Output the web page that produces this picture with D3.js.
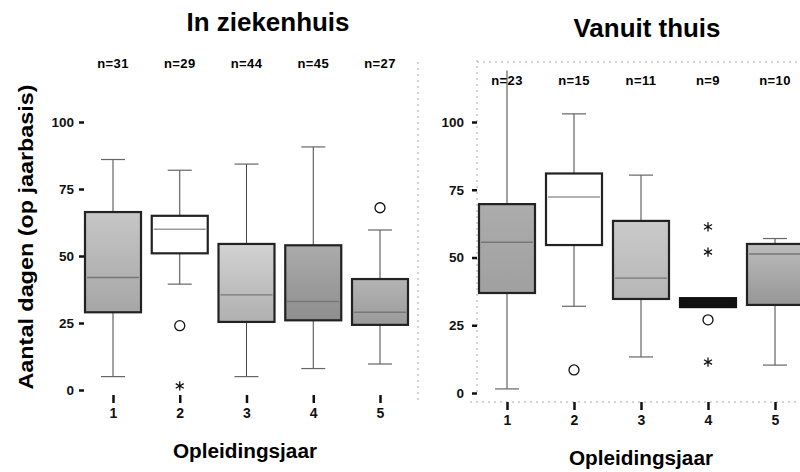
<!DOCTYPE html>
<html>
<head>
<meta charset="utf-8">
<script src="https://cdn.jsdelivr.net/npm/d3@7"></script>
<style>
  body { margin: 0; background: #fff; }
  svg { font-family: "Liberation Sans", Arial, sans-serif; font-weight: bold; }
  .axis text { font-weight: bold; fill: #111; }
</style>
</head>
<body>
<div id="chart"></div>
<script>
// opleidingsjaar categories
var years = ["1", "2", "3", "4", "5"];
var yTicks = [0, 25, 50, 75, 100];

// In ziekenhuis
var ziekN = [31, 29, 44, 45, 27];
var ziekMin = [5, 39.5, 5, 8, 9.7];
var ziekQ1 = [29, 51, 25.4, 26, 24.3];
var ziekMed = [42, 60, 35.5, 33, 29];
var ziekQ3 = [66.4, 65, 54.5, 54, 41.4];
var ziekMax = [86, 82, 84.3, 90.7, 59.7];
var ziekOut = [
  { year: "2", value: 24, type: "circle" },
  { year: "2", value: 1.5, type: "star" },
  { year: "5", value: 68, type: "circle" }
];

// Vanuit thuis
var thuisN = [23, 15, 11, 9, 10];
var thuisMin = [1.5, 32, 13.3, 31.7, 10.3];
var thuisQ1 = [36.9, 54.6, 34.7, 31.7, 32.5];
var thuisMed = [55.6, 72.3, 42.4, 33, 51.3];
var thuisQ3 = [69.7, 81, 63.5, 35, 55];
var thuisMax = [119, 103, 80.4, 35, 57];
var thuisOut = [
  { year: "2", value: 8.5, type: "circle" },
  { year: "4", value: 61.3, type: "star" },
  { year: "4", value: 52, type: "star" },
  { year: "4", value: 27, type: "circle" },
  { year: "4", value: 11.4, type: "star" }
];

var svg = d3.select("#chart").append("svg")
  .attr("width", 800)
  .attr("height", 472);

var defs = svg.append("defs");

function gradient(id, top, bottom) {
  var g = defs.append("linearGradient").attr("id", id)
    .attr("x1", 0).attr("y1", 0).attr("x2", 0).attr("y2", 1);
  g.append("stop").attr("offset", "0%").attr("stop-color", top);
  g.append("stop").attr("offset", "100%").attr("stop-color", bottom);
  return "url(#" + id + ")";
}

function drawPanel(p) {
  var x = d3.scalePoint().domain(years).range(p.xRange);
  var y = d3.scaleLinear().domain([0, 100]).range(p.yRange);
  var g = svg.append("g");
  var half = 28, cap = 12;

  var rows = years.map(function(yr, i) {
    return { year: yr, n: p.n[i], min: p.min[i], q1: p.q1[i], med: p.med[i], q3: p.q3[i], max: p.max[i], fill: p.fills[i] };
  });

  // frame bits (faint dotted, like the scan)
  p.frame.forEach(function(f) {
    g.append("line").attr("x1", f[0]).attr("y1", f[1]).attr("x2", f[2]).attr("y2", f[3])
      .attr("stroke", "#aaa").attr("stroke-width", 1).attr("stroke-dasharray", "2,4");
  });

  // y axis
  var ya = g.append("g").attr("class", "axis")
    .attr("transform", "translate(" + p.yAxisX + ",0)")
    .call(d3.axisLeft(y).tickValues(yTicks).tickSize(5).tickPadding(p.tickPad));
  ya.select(".domain").remove();
  ya.selectAll(".tick line").attr("stroke", "#111").attr("stroke-width", 2.5);
  ya.selectAll("text").style("font-size", "13.5px");

  // x axis
  var xa = g.append("g").attr("class", "axis")
    .attr("transform", "translate(0," + p.xAxisY + ")")
    .call(d3.axisBottom(x).tickSize(8).tickPadding(5));
  xa.select(".domain").remove();
  xa.selectAll(".tick line").attr("stroke", "#111").attr("stroke-width", 2.5);
  xa.selectAll("text").style("font-size", "14px");

  var box = g.selectAll(".box").data(rows).enter().append("g").attr("class", "box");

  // whiskers
  box.append("line")
    .attr("x1", d => x(d.year)).attr("x2", d => x(d.year))
    .attr("y1", d => y(d.max)).attr("y2", d => y(d.q3))
    .attr("stroke", "#444").attr("stroke-width", 1);
  box.append("line")
    .attr("x1", d => x(d.year)).attr("x2", d => x(d.year))
    .attr("y1", d => y(d.q1)).attr("y2", d => y(d.min))
    .attr("stroke", "#444").attr("stroke-width", 1);
  box.filter(d => d.max > d.q3 && d.max < 110).append("line")
    .attr("x1", d => x(d.year) - cap).attr("x2", d => x(d.year) + cap)
    .attr("y1", d => y(d.max)).attr("y2", d => y(d.max))
    .attr("stroke", "#666").attr("stroke-width", 1.2);
  box.filter(d => d.min < d.q1).append("line")
    .attr("x1", d => x(d.year) - cap).attr("x2", d => x(d.year) + cap)
    .attr("y1", d => y(d.min)).attr("y2", d => y(d.min))
    .attr("stroke", "#666").attr("stroke-width", 1.2);

  // boxes
  box.append("rect")
    .attr("x", d => x(d.year) - half)
    .attr("width", half * 2)
    .attr("y", d => y(d.q3))
    .attr("height", d => y(d.q1) - y(d.q3))
    .attr("fill", d => d.fill)
    .attr("stroke", d => d.fill === "#111" ? "#111" : "#222")
    .attr("stroke-width", 2.2);

  // medians (hidden in the solid black box)
  box.filter(d => d.fill !== "#111").append("line")
    .attr("x1", d => x(d.year) - half + 2).attr("x2", d => x(d.year) + half - 2)
    .attr("y1", d => y(d.med)).attr("y2", d => y(d.med))
    .attr("stroke", d => d.fill === "#fff" ? "#999" : "#777")
    .attr("stroke-width", 1.4);

  // n labels
  g.selectAll(".nlab").data(rows).enter().append("text")
    .attr("x", d => x(d.year)).attr("y", p.nY)
    .attr("text-anchor", "middle")
    .style("font-size", "13px")
    .style("letter-spacing", "0.4px")
    .text(d => "n=" + d.n);

  // outliers
  var circ = p.out.filter(o => o.type === "circle");
  var star = p.out.filter(o => o.type === "star");
  g.selectAll(".oc").data(circ).enter().append("circle")
    .attr("cx", d => x(d.year)).attr("cy", d => y(d.value)).attr("r", 5)
    .attr("fill", "#fff").attr("stroke", "#111").attr("stroke-width", 1.3);
  g.selectAll(".os").data(star).enter().append("path")
    .attr("transform", d => "translate(" + x(d.year) + "," + y(d.value) + ")")
    .attr("d", d3.symbol(d3.symbolAsterisk, 60))
    .attr("fill", "none").attr("stroke", "#111").attr("stroke-width", 1.3);

  // titles
  g.append("text").attr("x", p.titleX).attr("y", p.titleY)
    .attr("text-anchor", "middle").style("font-size", "25px")
    .attr("textLength", p.titleLen).attr("lengthAdjust", "spacingAndGlyphs")
    .text(p.title);
  g.append("text").attr("x", p.xLabX).attr("y", p.xLabY)
    .attr("text-anchor", "middle").style("font-size", "20px")
    .attr("textLength", 144).attr("lengthAdjust", "spacingAndGlyphs")
    .text("Opleidingsjaar");
}

drawPanel({
  title: "In ziekenhuis", titleX: 268, titleY: 31, titleLen: 163,
  xRange: [113, 380], yRange: [390, 122],
  yAxisX: 84, tickPad: 5, xAxisY: 395, nY: 68,
  xLabX: 245, xLabY: 458,
  n: ziekN, min: ziekMin, q1: ziekQ1, med: ziekMed, q3: ziekQ3, max: ziekMax, out: ziekOut,
  fills: [gradient("z1", "#c6c6c6", "#a6a6a6"), "#fff", gradient("z3", "#d2d2d2", "#b0b0b0"),
          gradient("z4", "#ababab", "#8e8e8e"), gradient("z5", "#b4b4b4", "#9a9a9a")],
  frame: [[418, 62, 418, 400]]
});

drawPanel({
  title: "Vanuit thuis", titleX: 647, titleY: 37, titleLen: 147,
  xRange: [507, 775], yRange: [393, 122],
  yAxisX: 477, tickPad: 8, xAxisY: 402, nY: 85,
  xLabX: 641, xLabY: 465,
  n: thuisN, min: thuisMin, q1: thuisQ1, med: thuisMed, q3: thuisQ3, max: thuisMax, out: thuisOut,
  fills: [gradient("t1", "#acacac", "#a0a0a0"), "#fff", gradient("t3", "#cacaca", "#b6b6b6"),
          "#111", gradient("t5", "#bcbcbc", "#969696")],
  frame: [[477, 60, 477, 396], [477, 62, 800, 62], [470, 402, 800, 402]]
});

// shared y label
svg.append("text")
  .attr("transform", "translate(33,237) rotate(-90)")
  .attr("text-anchor", "middle")
  .style("font-size", "21px")
  .attr("textLength", 305).attr("lengthAdjust", "spacingAndGlyphs")
  .text("Aantal dagen (op jaarbasis)");
</script>
</body>
</html>
